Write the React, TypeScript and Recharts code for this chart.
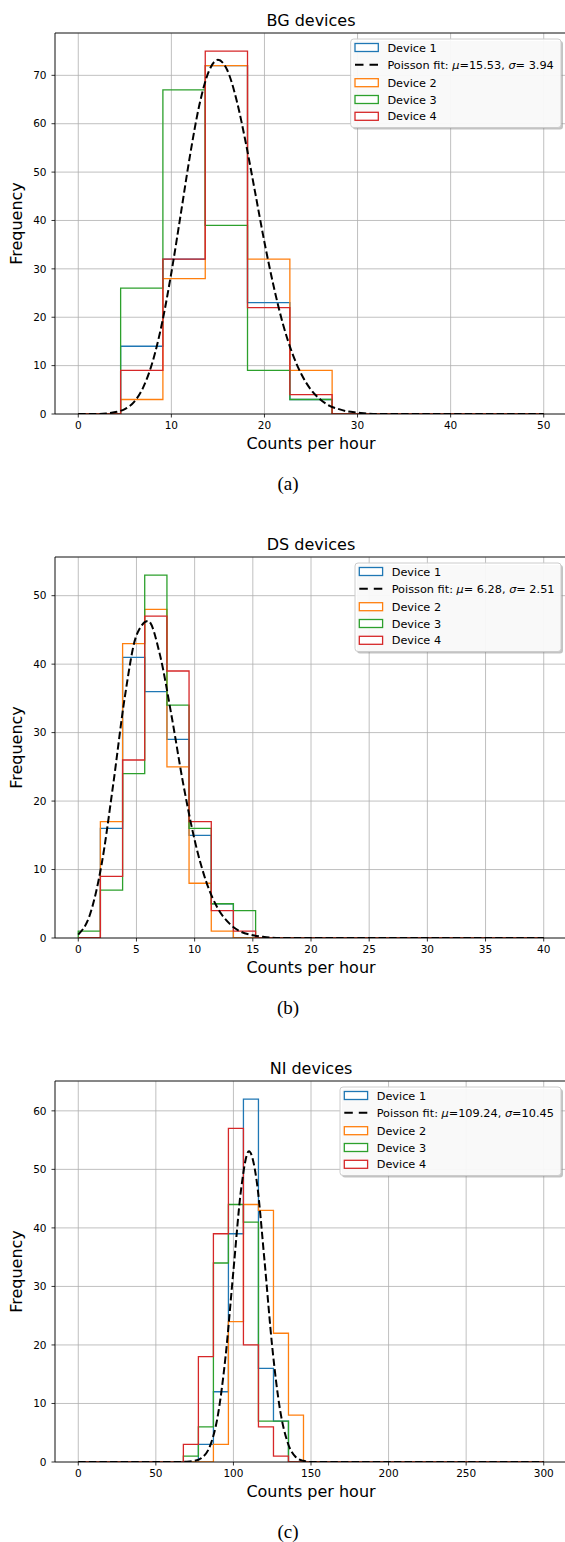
import React from "react";
import { LineChart, Line, XAxis, YAxis, CartesianGrid, ReferenceLine } from "recharts";

const FONT = "'DejaVu Sans', Verdana, sans-serif";
const deviceColors = ["#1f77b4", "#ff7f0e", "#2ca02c", "#d62728"];
const deviceNames = ["Device 1", "Device 2", "Device 3", "Device 4"];

// (a) BG devices: 11 bins over 0..50
const bgEdges = [0, 4.55, 9.09, 13.64, 18.18, 22.73, 27.27, 31.82, 36.36, 40.91, 45.45, 50];
const bgDevice1 = [0, 14, 32, 72, 23, 3, 0, 0, 0, 0, 0];
const bgDevice2 = [0, 3, 28, 72, 32, 9, 0, 0, 0, 0, 0];
const bgDevice3 = [0, 26, 67, 39, 9, 3, 0, 0, 0, 0, 0];
const bgDevice4 = [0, 9, 32, 75, 22, 4, 0, 0, 0, 0, 0];
const bgFitX = [0, 1, 2, 3, 4, 5, 6, 7, 8, 9, 10, 11, 12, 13, 14, 15, 16, 17, 18, 19, 20, 21, 22, 23, 24, 25, 26, 27, 28, 29, 30, 31, 32, 35, 40, 45, 50];
const bgFitY = [0, 0, 0, 0.1, 0.4, 1, 2.5, 5.6, 10.9, 18.8, 29.2, 41.2, 53.4, 63.8, 70.7, 73.2, 71.1, 64.9, 56, 45.8, 35.5, 26.3, 18.5, 12.5, 8.1, 5, 3, 1.7, 1, 0.5, 0.3, 0.1, 0, 0, 0, 0, 0];
const bgXTicks = [0, 10, 20, 30, 40, 50];
const bgYTicks = [0, 10, 20, 30, 40, 50, 60, 70];

// (b) DS devices: 21 bins over 0..40
const dsEdges = [0, 1.9, 3.81, 5.71, 7.62, 9.52, 11.43, 13.33, 15.24, 17.14, 19.05, 20.95, 22.86, 24.76, 26.67, 28.57, 30.48, 32.38, 34.29, 36.19, 38.1, 40];
const dsDevice1 = [0, 16, 41, 36, 29, 15, 5, 0, 0, 0, 0, 0, 0, 0, 0, 0, 0, 0, 0, 0, 0];
const dsDevice2 = [0, 17, 43, 48, 25, 8, 1, 0, 0, 0, 0, 0, 0, 0, 0, 0, 0, 0, 0, 0, 0];
const dsDevice3 = [1, 7, 24, 53, 34, 16, 5, 4, 0, 0, 0, 0, 0, 0, 0, 0, 0, 0, 0, 0, 0];
const dsDevice4 = [0, 9, 26, 47, 39, 17, 4, 1, 0, 0, 0, 0, 0, 0, 0, 0, 0, 0, 0, 0, 0];
const dsFitX = [0, 1, 2, 3, 4, 5, 6, 7, 8, 9, 10, 11, 12, 13, 14, 15, 16, 17, 20, 25, 30, 35, 40];
const dsFitY = [0.5, 3.4, 10.7, 22.4, 35.2, 44.2, 46.3, 41.5, 32.6, 22.7, 14.3, 8.2, 4.3, 2.1, 0.9, 0.4, 0.15, 0, 0, 0, 0, 0, 0];
const dsXTicks = [0, 5, 10, 15, 20, 25, 30, 35, 40];
const dsYTicks = [0, 10, 20, 30, 40, 50];

// (c) NI devices: 31 bins over 0..300
const niEdges = [0, 9.68, 19.35, 29.03, 38.71, 48.39, 58.06, 67.74, 77.42, 87.1, 96.77, 106.45, 116.13, 125.81, 135.48, 145.16, 154.84, 164.52, 174.19, 183.87, 193.55, 203.23, 212.9, 222.58, 232.26, 241.94, 251.61, 261.29, 270.97, 280.65, 290.32, 300];
const niDevice1 = [0, 0, 0, 0, 0, 0, 0, 0, 3, 12, 39, 62, 16, 7, 0, 0, 0, 0, 0, 0, 0, 0, 0, 0, 0, 0, 0, 0, 0, 0, 0];
const niDevice2 = [0, 0, 0, 0, 0, 0, 0, 0, 0, 3, 24, 44, 43, 22, 8, 0, 0, 0, 0, 0, 0, 0, 0, 0, 0, 0, 0, 0, 0, 0, 0];
const niDevice3 = [0, 0, 0, 0, 0, 0, 0, 1, 6, 34, 44, 41, 7, 7, 0, 0, 0, 0, 0, 0, 0, 0, 0, 0, 0, 0, 0, 0, 0, 0, 0];
const niDevice4 = [0, 0, 0, 0, 0, 0, 0, 3, 18, 39, 57, 20, 6, 1, 0, 0, 0, 0, 0, 0, 0, 0, 0, 0, 0, 0, 0, 0, 0, 0, 0];
const niFitX = [0, 50, 60, 70, 75, 80, 85, 90, 95, 100, 105, 110, 115, 120, 125, 130, 135, 140, 145, 150, 160, 200, 250, 300];
const niFitY = [0, 0, 0, 0.05, 0.2, 0.8, 2.8, 8, 18.2, 32.7, 46.7, 53.1, 48, 34.5, 19.7, 9, 3.3, 0.9, 0.2, 0, 0, 0, 0, 0];
const niXTicks = [0, 50, 100, 150, 200, 250, 300];
const niYTicks = [0, 10, 20, 30, 40, 50, 60];

const panels = [
  {
    top: 0, title: "BG devices", caption: "(a)",
    edges: bgEdges, devices: [bgDevice1, bgDevice2, bgDevice3, bgDevice4],
    fitX: bgFitX, fitY: bgFitY, xDomain: [-2.5, 52.5], xTicks: bgXTicks,
    yMax: 78.75, yTicks: bgYTicks, mu: "=15.53, ", sigma: "= 3.94", legendLeft: 350.7,
  },
  {
    top: 524, title: "DS devices", caption: "(b)",
    edges: dsEdges, devices: [dsDevice1, dsDevice2, dsDevice3, dsDevice4],
    fitX: dsFitX, fitY: dsFitY, xDomain: [-2, 42], xTicks: dsXTicks,
    yMax: 55.65, yTicks: dsYTicks, mu: "= 6.28, ", sigma: "= 2.51", legendLeft: 355,
  },
  {
    top: 1048, title: "NI devices", caption: "(c)",
    edges: niEdges, devices: [niDevice1, niDevice2, niDevice3, niDevice4],
    fitX: niFitX, fitY: niFitY, xDomain: [-15, 315], xTicks: niXTicks,
    yMax: 65.1, yTicks: niYTicks, mu: "=109.24, ", sigma: "=10.45", legendLeft: 340,
  },
];

// outline of a step histogram (like histtype="step")
function steps(edges: number[], counts: number[]) {
  const pts = [{ x: edges[0], y: 0 }];
  counts.forEach((c, i) => pts.push({ x: edges[i], y: c }));
  const last = edges[edges.length - 1];
  pts.push({ x: last, y: counts[counts.length - 1] });
  pts.push({ x: last, y: 0 });
  return pts;
}

const rowY = [47.5, 64.7, 82.7, 99.5, 116.3];

function LegendBox({ left, mu, sigma }: { left: number; mu: string; sigma: string }) {
  const w = 561 - left;
  const rows = [
    { kind: "patch", color: deviceColors[0], label: "Device 1" },
    { kind: "fit", color: "#000", label: "" },
    { kind: "patch", color: deviceColors[1], label: "Device 2" },
    { kind: "patch", color: deviceColors[2], label: "Device 3" },
    { kind: "patch", color: deviceColors[3], label: "Device 4" },
  ];
  return (
    <g>
      <rect x={left + 2} y={41} width={w} height={88.5} rx={3} fill="#888" opacity={0.5} />
      <rect x={left} y={39} width={w} height={88.5} rx={3} fill="#fff" fillOpacity={0.9} stroke="#cccccc" strokeWidth={1} />
      {rows.map((r, i) => (
        <g key={i}>
          {r.kind === "patch" ? (
            <rect x={left + 4.3} y={rowY[i] - 4} width={23.3} height={8} fill="#fff" stroke={r.color} strokeWidth={1.3} />
          ) : (
            <line x1={left + 4.3} x2={left + 27.6} y1={rowY[i]} y2={rowY[i]} stroke="#000" strokeWidth={2} strokeDasharray="8.5 6" />
          )}
          <text x={left + 36.7} y={rowY[i]} dy="0.36em" fontSize={11.3} fontFamily={FONT} fill="#000" style={{ whiteSpace: "pre" }}>
            {r.kind === "patch" ? r.label : (
              <>
                {"Poisson fit: "}
                <tspan fontStyle="italic">μ</tspan>
                {mu}
                <tspan fontStyle="italic">σ</tspan>
                {sigma}
              </>
            )}
          </text>
        </g>
      ))}
    </g>
  );
}

const tickStyle = { fontSize: 10.5, fill: "#000", fontFamily: FONT };

function HistPanel({ p }: { p: (typeof panels)[number] }) {
  const fit = p.fitX.map((x, i) => ({ x, y: p.fitY[i] }));
  return (
    <div style={{ position: "absolute", left: 0, top: p.top, width: 568, height: 500 }}>
      <LineChart width={568} height={444} margin={{ top: 33, right: 1, bottom: 0, left: 0 }}>
        <CartesianGrid stroke="#b0b0b0" strokeWidth={0.8} />
        <XAxis
          dataKey="x" type="number" domain={p.xDomain} ticks={p.xTicks} allowDataOverflow
          tick={tickStyle} tickSize={3.5} tickMargin={4} height={30}
          tickLine={{ stroke: "#000", strokeWidth: 0.8 }} axisLine={{ stroke: "#000", strokeWidth: 0.8 }}
        />
        <YAxis
          type="number" domain={[0, p.yMax]} ticks={p.yTicks} allowDataOverflow width={55}
          tick={tickStyle} tickSize={3.5} tickMargin={5}
          tickLine={{ stroke: "#000", strokeWidth: 0.8 }} axisLine={{ stroke: "#000", strokeWidth: 0.8 }}
        />
        <ReferenceLine y={p.yMax} stroke="#000" strokeWidth={0.8} />
        {p.devices.map((counts, i) => (
          <Line
            key={deviceNames[i]} name={deviceNames[i]} data={steps(p.edges, counts)} dataKey="y"
            type="stepAfter" stroke={deviceColors[i]} strokeWidth={1.3} dot={false} activeDot={false}
            isAnimationActive={false}
          />
        ))}
        <Line
          name="Poisson fit" data={fit} dataKey="y" type="monotone" stroke="#000" strokeWidth={2}
          strokeDasharray="7.4 3.2" dot={false} activeDot={false} isAnimationActive={false}
        />
      </LineChart>
      <svg width={568} height={500} style={{ position: "absolute", left: 0, top: 0, pointerEvents: "none" }}>
        <text x={311} y={25.5} textAnchor="middle" fontSize={16} fontFamily={FONT} fill="#000">{p.title}</text>
        <text x={311} y={448.5} textAnchor="middle" fontSize={16} fontFamily={FONT} fill="#000">Counts per hour</text>
        <text transform={`translate(22, 223.5) rotate(-90)`} textAnchor="middle" fontSize={16} fontFamily={FONT} fill="#000">Frequency</text>
        <text x={288} y={490} textAnchor="middle" fontSize={19} fontFamily="'Liberation Serif', 'Times New Roman', serif" fill="#000">{p.caption}</text>
        <LegendBox left={p.legendLeft} mu={p.mu} sigma={p.sigma} />
      </svg>
    </div>
  );
}

export default function App() {
  return (
    <div style={{ position: "absolute", left: 0, top: 0, width: 565, height: 1542, overflow: "hidden", background: "#fff" }}>
      {panels.map((p) => (
        <HistPanel key={p.title} p={p} />
      ))}
    </div>
  );
}
